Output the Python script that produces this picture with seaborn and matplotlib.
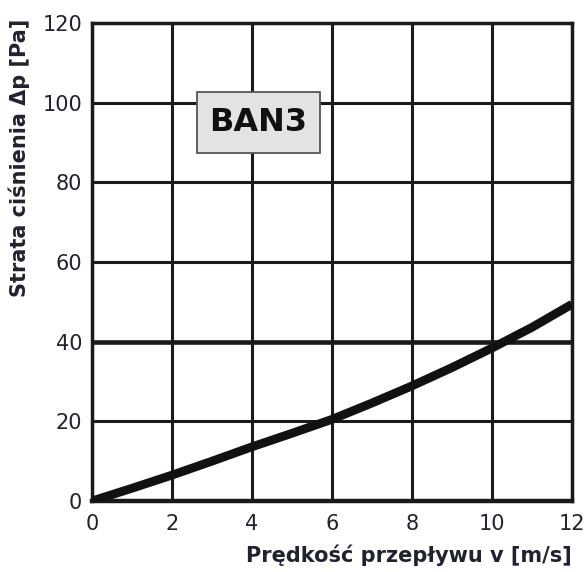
import matplotlib
matplotlib.use("Agg")
import matplotlib.pyplot as plt
import matplotlib.patches as mpatches
import seaborn as sns
import pandas as pd

# values
velocity = [0, 1, 2, 3, 4, 5, 6, 7, 8, 9, 10, 11, 12]
pressure_drop = [0, 3.2, 6.5, 10.0, 13.6, 17.0, 20.5, 24.6, 28.9, 33.5, 38.4, 43.6, 49.4]
x_ticks = [0, 2, 4, 6, 8, 10, 12]
y_ticks = [0, 20, 40, 60, 80, 100, 120]
label_text = "BAN3"

df = pd.DataFrame({"v": velocity, "dp": pressure_drop})

sns.set_style("white")
plt.rcParams["font.family"] = ["DejaVu Sans"]

fig = plt.figure(figsize=(5.87, 5.72), dpi=100)
ax = fig.add_axes([92 / 587, 71 / 572, 480 / 587, 478 / 572])

sns.lineplot(data=df, x="v", y="dp", ax=ax, color="#111111", linewidth=6.3,
             solid_capstyle="butt", zorder=3)

ax.set_xlim(0, 12)
ax.set_ylim(0, 120)
ax.set_xticks(x_ticks)
ax.set_yticks(y_ticks)
ax.grid(True, color="#1a1a1a", linewidth=2.2)
ax.set_axisbelow(True)
ax.get_ygridlines()[2].set_linewidth(3.3)
for s in ax.spines.values():
    s.set_color("#1a1a1a")
    s.set_linewidth(2.5)
ax.spines["bottom"].set_linewidth(3.2)

ax.tick_params(length=0, labelsize=15, labelcolor="#22222e")
ax.tick_params(axis="x", pad=9)
ax.tick_params(axis="y", pad=7)

ax.set_xlabel("Prędkość przepływu v [m/s]", fontsize=15, fontweight="bold",
              color="#22222e")
ax.set_ylabel("Strata ciśnienia \u0394p [Pa]", fontsize=15, fontweight="bold",
              color="#22222e")
ax.xaxis.set_label_coords(0.66, -0.092)
ax.yaxis.set_label_coords(-0.129, 0.717)

# label box
box = mpatches.Rectangle((2.63, 87.4), 3.07, 15.4, facecolor="#e3e3e3",
                         edgecolor="#555555", linewidth=1.3, zorder=4)
ax.add_patch(box)
ax.text(4.15, 95.1, label_text, fontsize=23, fontweight="bold", color="#111111",
        ha="center", va="center", zorder=5)

fig.savefig("out.png", dpi=100)
